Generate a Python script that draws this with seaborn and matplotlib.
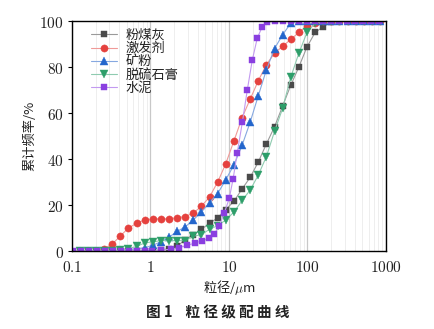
import numpy as np
import pandas as pd
import matplotlib
matplotlib.use("Agg")
import matplotlib.pyplot as plt
import seaborn as sns
from matplotlib.ticker import LogLocator, FixedLocator, NullFormatter

sns.set_theme(style="white")
plt.rcParams['font.family'] = ['Noto Sans CJK SC', 'DejaVu Sans']
plt.rcParams['mathtext.fontset'] = 'cm'

# particle size grid (um) shared by four of the series
size_grid = [0.125, 0.159, 0.202, 0.256, 0.325, 0.412, 0.523, 0.664, 0.842, 1.07,
             1.36, 1.72, 2.18, 2.77, 3.51, 4.46, 5.65, 7.18, 9.10, 11.6,
             14.7, 18.6, 23.6, 29.9, 38.0, 48.2, 61.1, 77.6, 98.4, 125,
             158, 201, 255, 324, 411, 521, 661, 839]

fly_ash = [0, 0, 0, 0, 0, 0, 0, 0, 0, 0,
           0.5, 1, 2, 5, 7, 9.5, 12, 14.5, 18, 21.7,
           27, 32, 38.7, 46.5, 54, 63, 72, 80, 88.7, 95,
           97.5, 99.5, 100, 100, 100, 100, 100, 100]

activator = [0, 0, 0, 1, 3, 6.5, 10, 12, 13.5, 14,
             14, 14, 14.5, 15, 16.5, 19.5, 23.5, 30, 38, 48,
             58, 66, 74, 81, 86, 89, 92, 95, 98, 99,
             100, 100, 100, 100, 100, 100, 100, 100]

slag = [0, 0, 0, 0, 0, 0.3, 0.5, 1, 1.4, 2.5,
        4, 6, 8.5, 10.5, 13.5, 17, 21, 25, 31, 37.5,
        46, 56, 67.5, 78.7, 88, 94, 99, 100, 100, 100,
        100, 100, 100, 100, 100, 100, 100, 100]

gypsum = [0, 0, 0, 0, 0, 0.5, 1, 2, 3.5, 4,
          4.5, 4.5, 4.5, 4.5, 6.5, 7, 9.5, 11, 13.5, 17,
          22, 26.5, 33, 41, 52, 62, 75.5, 86, 95, 99,
          100, 100, 100, 100, 100, 100, 100, 100]

# cement measured on its own size grid
cement_size = [0.102, 0.129, 0.163, 0.206, 0.260, 0.329, 0.416, 0.525, 0.664, 0.839,
               1.06, 1.38, 1.80, 2.34, 2.95, 3.73, 4.58, 5.62, 6.51, 7.53,
               8.71, 10.1, 11.3, 12.7, 14.8, 17.1, 19.8, 22.9, 26.5, 30.7,
               38.7, 49.0, 61.9, 78.2, 98.9, 125, 158, 200, 252, 319,
               403, 509, 643, 813]
cement = [0, 0, 0, 0, 0, 0, 0, 0, 0, 0,
          0, 0.3, 0.8, 1.5, 2.5, 3.5, 4.5, 5.5, 7.5, 11,
          16.5, 23, 31.5, 42.5, 56, 70, 83, 92.5, 97.5, 99.5,
          100, 100, 100, 100, 100, 100, 100, 100, 100, 100,
          100, 100, 100, 100]

labels = ['粉煤灰', '激发剂', '矿粉', '脱硫石膏', '水泥']
y_ticks = [0, 20, 40, 60, 80, 100]
x_ticks = [0.1, 1, 10, 100, 1000]
x_tick_labels = ['0.1', '1', '10', '100', '1000']

series = [
    (size_grid, fly_ash, labels[0], 's', '#4a4a4a', '#9a9a9a', 4.3),
    (size_grid, activator, labels[1], 'o', '#e5413e', '#f09a98', 5.2),
    (size_grid, slag, labels[2], '^', '#2466cc', '#86a8e0', 5.2),
    (size_grid, gypsum, labels[3], 'v', '#2e9e6a', '#8fcbb0', 5.2),
    (cement_size, cement, labels[4], 's', '#8a3fe0', '#c39af0', 4.3),
]

fig = plt.figure(figsize=(4.35, 3.29), dpi=100)
ax = fig.add_axes([72/435, 1-251/329, (386-72)/435, (251-21)/329])

for xs, ys, lab, mk, c, lc, ms in series:
    df = pd.DataFrame({'x': xs, 'y': ys})
    sns.lineplot(data=df, x='x', y='y', ax=ax, sort=False, estimator=None,
                 color=lc, linewidth=0.8, marker=mk, markersize=ms,
                 markerfacecolor=c, markeredgecolor=c, markeredgewidth=0.3,
                 label=lab)

ax.set_xscale('log')
ax.set_xlim(0.1, 1000)
ax.set_ylim(0, 100)

ax.xaxis.set_major_locator(FixedLocator(x_ticks))
ax.set_xticklabels(['$%s$' % s for s in x_tick_labels])
ax.xaxis.set_minor_locator(LogLocator(base=10, subs=np.arange(2, 10)))
ax.xaxis.set_minor_formatter(NullFormatter())
ax.set_yticks(y_ticks)
ax.set_yticklabels(['$%d$' % v for v in y_ticks])

ax.grid(False)
ax.grid(True, axis='x', which='major', color='#c8c8c8', linewidth=0.9)
ax.grid(True, axis='x', which='minor', color='#eeeeee', linewidth=0.7)
ax.set_axisbelow(True)

for s in ax.spines.values():
    s.set_color('black')
    s.set_linewidth(1.0)

ax.tick_params(axis='y', which='major', direction='out', length=3, width=0.8,
               color='black', left=True, labelsize=11, pad=3)
ax.tick_params(axis='x', which='both', length=0, labelsize=11, pad=6)
for t in ax.get_xticklabels() + ax.get_yticklabels():
    t.set_color('#222222')

ax.set_xlabel('粒径/$\\mu$m', fontsize=9.5, color='#222222', labelpad=1)
ax.set_ylabel('累计频率/%', fontsize=9.5, color='#222222', labelpad=2)

leg = ax.legend(loc='upper left', frameon=False, fontsize=9.5,
                handlelength=2.0, handletextpad=0.6, labelspacing=0.02,
                borderaxespad=0.2, bbox_to_anchor=(0.035, 1.0))
for t in leg.get_texts():
    t.set_color('#222222')

fig.text(0.5, 1-312/329, '图 1    粒 径 级 配 曲 线', ha='center', va='center',
         fontsize=10.5, fontweight='bold', color='#222222')

fig.savefig('out.png', dpi=100)
